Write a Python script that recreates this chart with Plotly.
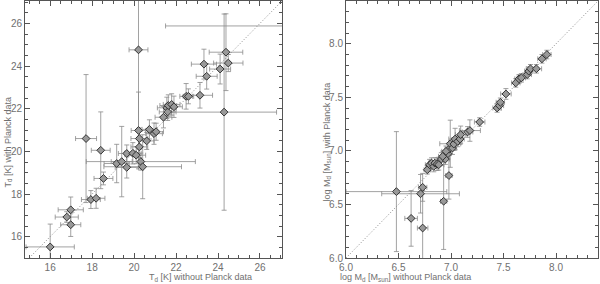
import plotly.graph_objects as go

# left panel: dust temperature
td_without = [16.0, 16.79, 16.98, 16.98, 17.94, 18.19, 18.54, 17.71, 18.41, 19.17, 19.41,
              19.65, 19.65, 19.94, 20.1, 20.32, 20.41, 20.21, 20.21, 20.25, 20.25, 20.6,
              20.73, 20.95, 21.05, 21.4, 21.56, 21.6, 21.63, 21.79, 21.9, 22.48, 22.59,
              23.14, 23.33, 23.46, 24.1, 24.38, 24.49, 24.29, 27.6]
td_with = [15.52, 16.92, 17.26, 16.56, 17.74, 17.8, 18.73, 20.6, 20.05, 19.43, 19.52,
           19.25, 19.9, 19.91, 19.82, 19.52, 19.28, 24.76, 20.98, 20.6, 20.21, 20.49,
           21.03, 20.83, 20.92, 21.6, 22.04, 21.85, 22.15, 22.2, 22.09, 22.58, 22.58,
           22.63, 24.09, 23.52, 23.86, 24.65, 24.14, 21.84, 25.88]
td_without_err = [1.15, 0.55, 0.6, 0.48, 0.45, 0.42, 0.45, 0.5, 0.45, 0.6, 0.5,
                  0.55, 0.4, 0.4, 0.45, 2.6, 1.85, 0.45, 0.35, 0.4, 0.4, 0.35,
                  0.35, 0.4, 0.35, 0.4, 0.45, 0.4, 0.4, 0.4, 0.4, 0.3, 0.25,
                  0.6, 0.6, 0.5, 0.5, 0.8, 0.7, 2.5, 6.1]
td_with_err = [1.07, 0.25, 0.6, 0.55, 0.42, 0.47, 0.3, 3.0, 1.8, 0.9, 1.65,
               0.5, 0.4, 0.5, 0.4, 0.4, 1.5, 3.8, 1.8, 0.5, 0.5, 0.4,
               0.45, 0.5, 0.4, 0.5, 0.5, 0.4, 0.5, 0.5, 0.5, 0.6, 0.35,
               0.6, 0.7, 0.6, 0.7, 1.8, 0.4, 4.6, 0.3]

# right panel: log dust mass
md_without = [6.48, 6.62, 6.73, 6.71, 6.73, 6.93, 6.98,
              6.774, 6.796, 6.815, 6.836, 6.846, 6.868, 6.883, 6.908, 6.946, 6.971,
              6.983, 6.993, 7.014, 7.027, 7.039, 7.064, 7.086, 7.092, 7.158, 7.18,
              7.273, 7.439, 7.461, 7.47, 7.523, 7.617, 7.648, 7.67, 7.726, 7.741,
              7.757, 7.813, 7.866, 7.913, 6.952, 6.921]
md_with = [6.62, 6.37, 6.66, 6.60, 6.28, 6.53, 6.77,
           6.824, 6.871, 6.886, 6.855, 6.886, 6.877, 6.871, 6.924, 6.924, 6.974,
           7.018, 7.067, 7.027, 7.064, 7.111, 7.089, 7.111, 7.152, 7.177, 7.19,
           7.27, 7.401, 7.423, 7.454, 7.532, 7.635, 7.673, 7.682, 7.713, 7.745,
           7.767, 7.767, 7.86, 7.9, 6.996, 6.949]
md_without_err = [0.48, 0.06, 0.04, 0.37, 0.05, 0.03, 0.03,
                  0.03, 0.04, 0.03, 0.04, 0.04, 0.04, 0.05, 0.04, 0.04, 0.03,
                  0.04, 0.10, 0.04, 0.04, 0.06, 0.04, 0.04, 0.05, 0.05, 0.10,
                  0.05, 0.04, 0.04, 0.04, 0.05, 0.04, 0.04, 0.04, 0.04, 0.04,
                  0.04, 0.05, 0.04, 0.04, 0.04, 0.04]
md_with_err = [0.56, 0.26, 0.13, 0.18, 0.35, 0.45, 0.22,
               0.04, 0.05, 0.05, 0.05, 0.05, 0.06, 0.05, 0.06, 0.05, 0.05,
               0.06, 0.22, 0.06, 0.06, 0.10, 0.05, 0.05, 0.08, 0.05, 0.10,
               0.04, 0.04, 0.04, 0.04, 0.05, 0.04, 0.04, 0.04, 0.04, 0.04,
               0.04, 0.04, 0.04, 0.04, 0.05, 0.05]

td_range = [14.8, 27.05]
td_yrange = [15.0, 27.05]
md_range = [6.0, 8.4]

grey = '#707070'
marker = dict(symbol='diamond', size=6, color='#999999', line=dict(color='#333333', width=1))


def err(vals):
    return dict(type='data', array=vals, visible=True, color='#8a8a8a', thickness=0.8, width=2.5)


fig = go.Figure()
fig.add_trace(go.Scatter(x=[14.8, 27.05], y=[14.8, 27.05], mode='lines',
                         line=dict(color='#888888', width=1, dash='1px,2px'),
                         xaxis='x', yaxis='y', showlegend=False))
fig.add_trace(go.Scatter(x=td_without, y=td_with, mode='markers', marker=marker,
                         error_x=err(td_without_err), error_y=err(td_with_err),
                         xaxis='x', yaxis='y', showlegend=False))
fig.add_trace(go.Scatter(x=md_range, y=md_range, mode='lines',
                         line=dict(color='#888888', width=1, dash='1px,2px'),
                         xaxis='x2', yaxis='y2', showlegend=False))
fig.add_trace(go.Scatter(x=md_without, y=md_with, mode='markers', marker=marker,
                         error_x=err(md_without_err), error_y=err(md_with_err),
                         xaxis='x2', yaxis='y2', showlegend=False))

axis_style = dict(showline=True, linecolor='#555555', linewidth=1, mirror='allticks',
                  ticks='inside', ticklen=5, tickcolor='#555555', showgrid=False,
                  zeroline=False, automargin=False, tickfont=dict(size=10, color=grey))

fig.update_layout(
    template='none',
    width=600, height=284,
    margin=dict(l=0, r=0, t=0, b=0),
    paper_bgcolor='white', plot_bgcolor='white',
    font=dict(family='Liberation Sans', color=grey),
    showlegend=False,
    xaxis=dict(domain=[25 / 600, 282 / 600], range=td_range, dtick=2, tick0=16,
               minor=dict(ticks='inside', ticklen=3, dtick=0.5, tickcolor='#555555'),
               anchor='y', **axis_style),
    yaxis=dict(domain=[26 / 284, 283 / 284], range=td_yrange, dtick=2, tick0=16,
               minor=dict(ticks='inside', ticklen=3, dtick=0.5, tickcolor='#555555'),
               anchor='x', **axis_style),
    xaxis2=dict(domain=[346 / 600, 598 / 600], range=md_range, dtick=0.5, tick0=6,
                tickformat='.1f',
                minor=dict(ticks='inside', ticklen=3, dtick=0.1, tickcolor='#555555'),
                anchor='y2', **axis_style),
    yaxis2=dict(domain=[26 / 284, 283 / 284], range=md_range, dtick=0.5, tick0=6,
                tickformat='.1f',
                minor=dict(ticks='inside', ticklen=3, dtick=0.1, tickcolor='#555555'),
                anchor='x2', **axis_style),
)

title_font = dict(size=9, color=grey)
fig.add_annotation(text='T<sub>d</sub> [K] without Planck data', xref='paper', yref='paper',
                   x=147 / 600, y=7 / 284, yanchor='middle', showarrow=False, font=title_font)
fig.add_annotation(text='T<sub>d</sub> [K] with Planck data', xref='paper', yref='paper',
                   x=0, y=142 / 284, xanchor='left', textangle=-90, showarrow=False,
                   font=title_font)
fig.add_annotation(text='log M<sub>d</sub> [M<sub>sun</sub>] without Planck data', xref='paper',
                   yref='paper', x=473 / 600, y=7 / 284, yanchor='middle', showarrow=False,
                   font=title_font)
fig.add_annotation(text='log M<sub>d</sub> [M<sub>sun</sub>] with Planck data', xref='paper',
                   yref='paper', x=319 / 600, y=142 / 284, xanchor='left', textangle=-90,
                   showarrow=False, font=title_font)

# drop the default page margin so the figure sits at the window's top-left corner
fig.write_html("out.html", config={'displayModeBar': False},
               post_script="document.body.style.margin='0';")
